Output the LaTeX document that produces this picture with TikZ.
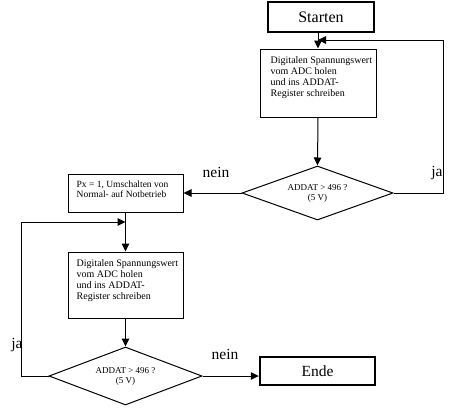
\documentclass[tikz,border=0pt]{standalone}
\usepackage{fontspec}
\setmainfont{Liberation Serif}
\usetikzlibrary{shapes.geometric,arrows.meta}

\tikzset{
  flow/.style={draw, line width=1pt, -{Triangle[length=8pt,width=7.5pt]}},
  termbox/.style={draw, line width=2.4pt, minimum width=106pt, minimum height=30pt, inner sep=0pt, font=\fontsize{16}{18}\selectfont},
  workbox/.style={draw, line width=1pt, inner sep=0pt},
  boxtext/.style={anchor=north west, inner sep=0pt, align=left, xshift=9pt, yshift=-8pt, font=\fontsize{10}{11}\selectfont},
  testbox/.style={draw, diamond, shape aspect=2.8, line width=1pt, inner sep=0pt, align=center, font=\fontsize{9}{10}\selectfont},
  answer/.style={font=\fontsize{15.5}{17}\selectfont}
}

\begin{document}
\begin{tikzpicture}[x=1pt, y=-1pt]

% Background
\fill[white] (0,0) rectangle (462,408);

% === FIRST MEASUREMENT ===
\node[termbox] (start) at (321,17) {Starten};
\node[workbox, minimum width=116pt, minimum height=68pt,
  label={[boxtext, xshift=2pt]north west:Digitalen Spannungswert\\vom ADC holen\\und ins ADDAT-\\Register schreiben}] (read1) at (318,83) {};
\node[testbox, minimum width=151pt, minimum height=54pt] (test1) at (317.5,193) {ADDAT > 496 ?\\(5 V)};

% === SWITCH OVER ===
\node[workbox, minimum width=115pt, minimum height=38pt,
  label={[boxtext, yshift=1pt, font=\fontsize{9.5}{10.5}\selectfont]north west:Px = 1, Umschalten von\\Normal- auf Notbetrieb}] (switch) at (125.5,193) {};

% === SECOND MEASUREMENT ===
\node[workbox, minimum width=115pt, minimum height=66pt,
  label={[boxtext]north west:Digitalen Spannungswert\\vom ADC holen\\und ins ADDAT-\\Register schreiben}] (read2) at (125.5,285) {};
\node[testbox, minimum width=153pt, minimum height=58pt] (test2) at (125.5,376) {ADDAT > 496 ?\\(5 V)};
\node[termbox, minimum width=115pt, minimum height=28pt, font=\fontsize{15.5}{17}\selectfont] (ende) at (317.5,371) {Ende};

% === CONNECTORS ===
\coordinate (back1) at (443,40);
\coordinate (join1) at (318,40);
\coordinate (back2) at (21,222);
\coordinate (join2) at (125.5,222);

\draw[flow] (start.south -| read1.north) -- (read1.north);
\draw[flow] (read1.south) -- (test1.north);
\draw[flow] (test1.east) -| (back1) -- (join1);
\draw[flow] (test1.west) -- (switch.east);
\draw[flow] (switch.south) -- (read2.north);
\draw[flow] (read2.south) -- (test2.north);
\draw[flow] (test2.west) -| (back2) -- (join2);
\draw[flow] (test2.east) -- (test2.east -| ende.west);

% answers
\node[answer] (nein1) at (216,172) {nein};
\node[answer] (ja1) at (437,173) {ja};
\node[answer] (ja2) at (17,345) {ja};
\node[answer] (nein2) at (225,354) {nein};

\end{tikzpicture}
\end{document}
